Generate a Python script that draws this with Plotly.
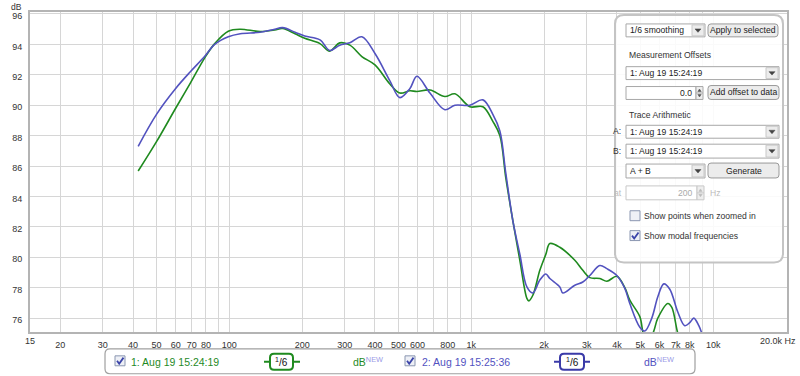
import plotly.graph_objects as go
import math

# ---------------- data ----------------
green_freq = [42, 50, 60, 69, 79, 87, 99, 111, 134, 154, 166, 187, 205, 237, 260, 286, 315, 353, 400, 461,
              507, 558, 596, 675, 778, 856, 987, 1117, 1228, 1313, 1390, 1486, 1588, 1698, 1730, 1797, 1921,
              2034, 2113, 2323, 2680, 2892, 3091, 3400, 3635, 3998, 4313, 4523, 4975, 5217, 5576, 5904, 6494,
              6746, 7141, 7600]
green_db = [85.67, 87.6, 89.8, 91.45, 93.1, 94.05, 94.87, 95.0, 94.85, 94.95, 95.05, 94.7, 94.4, 94.05, 93.56,
            94.1, 93.95, 93.2, 92.65, 91.4, 90.8, 90.95, 90.9, 91.0, 90.57, 90.75, 89.9, 89.9, 88.94, 88.0, 85.2,
            82.4, 79.8, 77.3, 77.13, 77.5, 79.14, 80.2, 80.9, 80.66, 79.8, 79.14, 78.66, 78.6, 78.42, 78.75, 78.0,
            77.18, 76.1, 74.8, 74.9, 76.0, 76.96, 76.7, 75.0, 73.8]

blue_freq = [42, 50, 60, 69, 79, 87, 99, 111, 134, 154, 166, 187, 205, 237, 260, 286, 315, 353, 400, 461,
             507, 558, 596, 675, 778, 856, 987, 1117, 1228, 1313, 1390, 1486, 1588, 1698, 1797, 1921, 2034,
             2113, 2323, 2391, 2680, 2892, 3091, 3400, 3635, 3998, 4313, 4523, 4975, 5217, 5576, 5904, 6251,
             6618, 7141, 7633, 8004, 8316, 8723, 9060]
blue_db = [87.3, 89.4, 91.1, 92.2, 93.2, 94.0, 94.5, 94.7, 94.8, 95.0, 95.1, 94.8, 94.55, 94.3, 93.6, 93.95,
           94.1, 94.5, 93.4, 91.6, 90.5, 91.1, 91.9, 90.8, 89.7, 90.0, 90.0, 90.35, 89.4, 88.3, 85.5, 82.4, 80.2,
           78.05, 77.65, 78.5, 78.9, 78.6, 78.05, 77.65, 78.16, 78.37, 78.8, 79.46, 79.25, 78.8, 77.95, 76.96,
           75.4, 75.15, 76.0, 77.4, 78.25, 77.9, 76.4, 75.5, 75.7, 76.0, 75.5, 74.8]

tick_vals = [20, 30, 40, 50, 60, 70, 80, 100, 200, 300, 400, 500, 600, 800, 1000,
             2000, 3000, 4000, 5000, 6000, 7000, 8000, 10000]
tick_text = ["20", "30", "40", "50", "60", "70", "80", "100", "200", "300", "400", "500", "600",
             "800", "1k", "2k", "3k", "4k", "5k", "6k", "7k", "8k", "10k"]
minor_grid_vals = [90, 700, 900, 9000]
y_ticks = [76, 78, 80, 82, 84, 86, 88, 90, 92, 94, 96]

trace1_name = "1: Aug 19 15:24:19"
trace2_name = "2: Aug 19 15:25:36"

GREEN = "#1f8a1f"
BLUE = "#5252bf"

# ---------------- geometry ----------------
W, H = 800, 376
PL, PR, PT, PB = 30, 787, 10, 332


def fx(px):
    return (px - PL) / (PR - PL)


def fy(py):
    return (PB - py) / (PB - PT)


shapes = []
annotations = []


def rrect(x0, y0, x1, y1, r, line="#999", fill="white", width=1, layer="above"):
    pts = [("M", x0 + r, y0), ("L", x1 - r, y0), ("Q", x1, y0, x1, y0 + r), ("L", x1, y1 - r),
           ("Q", x1, y1, x1 - r, y1), ("L", x0 + r, y1), ("Q", x0, y1, x0, y1 - r), ("L", x0, y0 + r),
           ("Q", x0, y0, x0 + r, y0)]
    s = ""
    for p in pts:
        cmd = p[0]
        coords = p[1:]
        parts = []
        for i in range(0, len(coords), 2):
            parts.append(f"{fx(coords[i]):.5f},{fy(coords[i + 1]):.5f}")
        s += cmd + " " + " ".join(parts) + " "
    s += "Z"
    shapes.append(dict(type="path", path=s, xref="paper", yref="paper",
                       line=dict(color=line, width=width), fillcolor=fill, layer=layer))


def rect(x0, y0, x1, y1, line="#999", fill="white", width=1):
    shapes.append(dict(type="rect", xref="paper", yref="paper", x0=fx(x0), x1=fx(x1), y0=fy(y1), y1=fy(y0),
                       line=dict(color=line, width=width), fillcolor=fill, layer="above"))


def poly(points, fill="#333", line="#333", width=1, closed=True):
    s = "M " + " L ".join(f"{fx(a):.5f},{fy(b):.5f}" for a, b in points)
    if closed:
        s += " Z"
    shapes.append(dict(type="path", path=s, xref="paper", yref="paper",
                       line=dict(color=line, width=width), fillcolor=fill if closed else None, layer="above"))


def line(x0, y0, x1, y1, color="#999", width=1):
    shapes.append(dict(type="line", xref="paper", yref="paper", x0=fx(x0), x1=fx(x1), y0=fy(y0), y1=fy(y1),
                       line=dict(color=color, width=width), layer="above"))


def text(px, py, s, size=9, color="#333", anchor="left", yanchor="middle"):
    annotations.append(dict(x=fx(px), y=fy(py), xref="paper", yref="paper", text=s, showarrow=False,
                            xanchor=anchor, yanchor=yanchor, borderpad=0,
                            font=dict(family="Liberation Sans, Arial, sans-serif", size=size, color=color)))


PF = 8.6  # panel font size


def dropdown(x0, y0, x1, y1, label):
    rect(x0, y0, x1, y1, line="#a8a8a8", fill="white")
    rect(x1 - 13, y0 + 1, x1 - 1, y1 - 1, line="#c8c8c8", fill="#ececec")
    cx, cy = x1 - 7, (y0 + y1) / 2
    poly([(cx - 3, cy - 1.5), (cx + 3, cy - 1.5), (cx, cy + 2)], fill="#444", line="#444", width=0.5)
    text(x0 + 3, (y0 + y1) / 2, label, size=PF, color="#222")


def button(x0, y0, x1, y1, label):
    rrect(x0, y0, x1, y1, 3, line="#9a9a9a", fill="#ececec")
    text((x0 + x1) / 2, (y0 + y1) / 2, label, size=PF, color="#222", anchor="center")


def spinfield(x0, y0, x1, y1, val, disabled=False):
    col = "#c8c8c8" if disabled else "#a8a8a8"
    rect(x0, y0, x1, y1, line=col, fill="white")
    rect(x1, y0, x1 + 7, y1, line=col, fill="#eeeeee")
    ym = (y0 + y1) / 2
    line(x1, ym, x1 + 7, ym, color=col)
    tc = "#bbb" if disabled else "#555"
    poly([(x1 + 1.8, ym - 1.5), (x1 + 5.2, ym - 1.5), (x1 + 3.5, ym - 4)], fill=tc, line=tc, width=0.5)
    poly([(x1 + 1.8, ym + 1.5), (x1 + 5.2, ym + 1.5), (x1 + 3.5, ym + 4)], fill=tc, line=tc, width=0.5)
    text(x1 - 3, ym, val, size=PF, color="#aaa" if disabled else "#222", anchor="right")


def checkbox(x0, y0, checked):
    rect(x0, y0, x0 + 10, y0 + 10, line="#8a96b0", fill="#eef0f6")
    if checked:
        poly([(x0 + 2, y0 + 5), (x0 + 4.2, y0 + 8), (x0 + 8.5, y0 + 1.8)], fill=None, line="#3a44a8",
             width=1.8, closed=False)


# ---------------- figure ----------------
fig = go.Figure()
fig.add_trace(go.Scatter(x=green_freq, y=green_db, mode="lines", name=trace1_name,
                         line=dict(color=GREEN, width=1.6, shape="spline", smoothing=1.0)))
fig.add_trace(go.Scatter(x=blue_freq, y=blue_db, mode="lines", name=trace2_name,
                         line=dict(color=BLUE, width=1.6, shape="spline", smoothing=1.0)))

# ----- control panel -----
rrect(615, 13, 783, 262, 9, line="#c4c4c4", fill="rgba(255,255,255,0.88)", width=2)
dropdown(626, 22, 705, 35, "1/6 smoothing")
button(708, 22, 778, 35, "Apply to selected")
text(628, 53, "Measurement Offsets", size=PF, color="#333")
dropdown(626, 65, 779, 78, "1: Aug 19 15:24:19")
spinfield(626, 85, 696, 98, "0.0")
button(708, 84, 779, 98, "Add offset to data")
text(628, 114, "Trace Arithmetic", size=PF, color="#333")
text(612, 130, "A:", size=PF, color="#333")
dropdown(626, 124, 779, 137, "1: Aug 19 15:24:19")
text(612, 150, "B:", size=PF, color="#333")
dropdown(626, 143, 779, 157, "1: Aug 19 15:24:19")
dropdown(626, 163, 705, 177, "A + B")
button(708, 162, 779, 177, "Generate")
text(613, 192, "at", size=PF, color="#bbb")
spinfield(626, 185, 697, 199, "200", disabled=True)
text(709, 192, "Hz", size=PF, color="#bbb")
checkbox(630, 210, False)
text(643, 215, "Show points when zoomed in", size=PF, color="#333")
checkbox(630, 230, True)
text(643, 235, "Show modal frequencies", size=PF, color="#333")

# ----- bottom legend box -----
rrect(105, 349, 695, 374, 5, line="#a0a0a0", fill="white", width=1.2)
checkbox(115, 356, True)
text(130, 362, trace1_name, size=10.5, color=GREEN)
line(264, 362, 300, 362, color=GREEN, width=2)
rrect(270, 354, 293, 370, 4, line=GREEN, fill="white", width=2)
text(281.5, 362, "<sup>1</sup>/6", size=10, color="#111", anchor="center")
text(352, 362, "dB<sup><span style='color:#9a9ae6'>NEW</span></sup>", size=10.5, color=GREEN)
checkbox(405, 356, True)
text(421, 362, trace2_name, size=10.5, color=BLUE)
line(554, 362, 590, 362, color="#3a3aa8", width=2)
rrect(560, 354, 584, 370, 4, line="#3a3aa8", fill="white", width=2)
text(572, 362, "<sup>1</sup>/6", size=10, color="#111", anchor="center")
text(643, 362, "dB<sup><span style='color:#9a9ae6'>NEW</span></sup>", size=10.5, color=BLUE)

# axis labels extra
text(10, -1, "dB", size=8.5, color="#333", yanchor="top")
text(797, 341, "20.0k Hz", size=9, color="#333", anchor="right")
text(30, 341, "15", size=9, color="#333", anchor="center")

fig.update_layout(
    width=W, height=H,
    margin=dict(l=PL, r=W - PR, t=PT, b=H - PB),
    paper_bgcolor="white", plot_bgcolor="white",
    showlegend=False,
    shapes=shapes, annotations=annotations,
    font=dict(family="Liberation Sans, Arial, sans-serif", size=9, color="#333"),
)
fig.update_xaxes(type="log", range=[math.log10(15), math.log10(20000) + 1 / 242],
                 tickvals=tick_vals, ticktext=tick_text, showgrid=True, gridcolor="#d6d6d6", gridwidth=1,
                 minor=dict(tickvals=minor_grid_vals, showgrid=True, gridcolor="#d6d6d6", gridwidth=1, ticks=""),
                 showline=True, linecolor="#b4b4b4", linewidth=2, mirror=True, ticks="",
                 tickfont=dict(size=9, color="#333"), zeroline=False, ticklabelstandoff=3)
fig.update_yaxes(range=[75.085, 96.13], tickvals=y_ticks, showgrid=True, gridcolor="#d6d6d6", gridwidth=1,
                 showline=True, linecolor="#b4b4b4", linewidth=2, mirror=True, ticks="",
                 tickfont=dict(size=9, color="#333"), zeroline=False, ticklabelstandoff=4,
                 ticklabelshift=2)

fig.write_html("out.html")
